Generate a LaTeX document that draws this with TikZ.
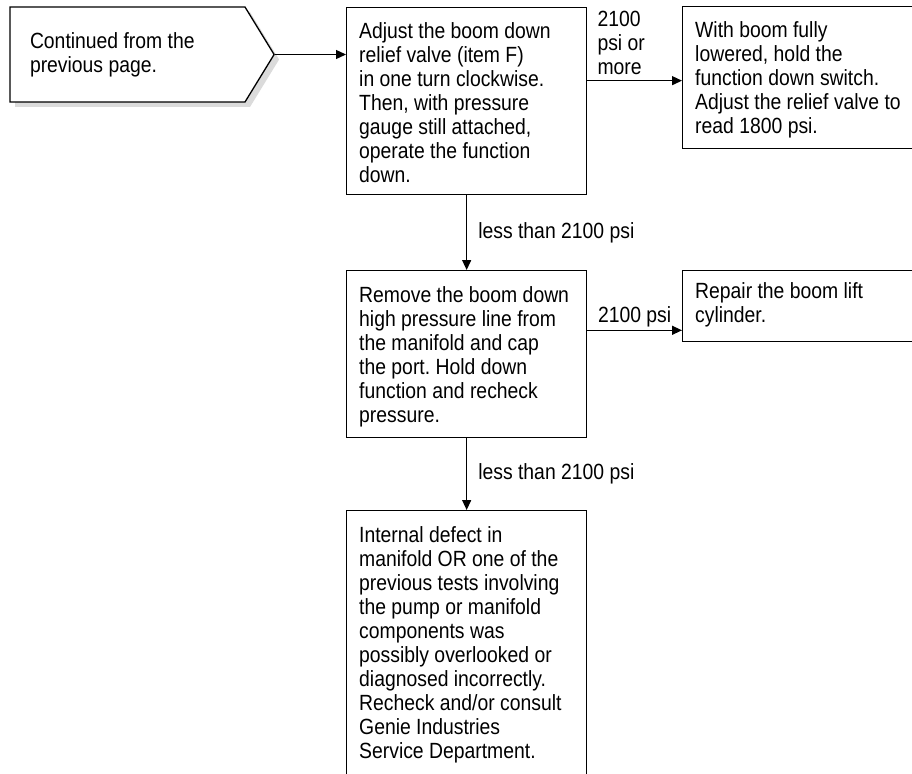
\documentclass[tikz,border=0pt]{standalone}
\usepackage{fontspec}
\setmainfont{Liberation Sans}[FakeStretch=0.88]
\usepackage{tikz}
\usetikzlibrary{arrows.meta,positioning,shapes.symbols,shadows}
\frenchspacing

\begin{document}
\begin{tikzpicture}[x=1pt, y=-1pt,
    box/.style={draw, line width=1.3pt, fill=white, anchor=north west, inner sep=0pt},
    txt/.style={font=\fontsize{22}{24}\selectfont, align=left, anchor=north west, inner sep=0pt},
    lbl/.style={font=\fontsize{22}{24}\selectfont, align=left, inner sep=0pt},
    flow/.style={-{Triangle[length=10pt,width=9pt]}, line width=1.3pt},
    cont/.style={signal, signal to=east, signal pointer angle=117, draw, line width=1.3pt, fill=white,
        minimum height=95pt, inner xsep=20pt, text width=195pt, align=flush left,
        font=\fontsize{22}{24}\selectfont,
        drop shadow={shadow xshift=5pt, shadow yshift=-5pt, fill=black!14, opacity=1}}
]
    \useasboundingbox (0,0) rectangle (912,773);
    \clip (0,0) rectangle (912,773);

    % Start marker (left)
    \node[cont] (prev) at (127.5,54.5) {Continued from the\\previous page.};

    % Boxes
    \node[box, minimum width=240pt, minimum height=187pt] (adjust) at (346,7) {};
    \node[box, minimum width=260pt, minimum height=142pt] (lower) at (682,6) {};
    \node[box, minimum width=240pt, minimum height=167pt] (remove) at (346,270) {};
    \node[box, minimum width=260pt, minimum height=71pt] (repair) at (682,270) {};
    \node[box, minimum width=240pt, minimum height=290pt] (defect) at (346,510) {};

    % Box texts
    \node[txt] (adjusttxt) at ([shift={(13,15)}]adjust.north west)
        {Adjust the boom down\\relief valve (item F)\\in one turn clockwise.\\Then, with pressure\\gauge still attached,\\operate the function\\down.};
    \node[txt] (lowertxt) at ([shift={(13,15)}]lower.north west)
        {With boom fully\\lowered, hold the\\function down switch.\\Adjust the relief valve to\\read 1800 psi.};
    \node[txt] (removetxt) at ([shift={(13,16)}]remove.north west)
        {Remove the boom down\\high pressure line from\\the manifold and cap\\the port. Hold down\\function and recheck\\pressure.};
    \node[txt] (repairtxt) at ([shift={(13,12)}]repair.north west)
        {Repair the boom lift\\cylinder.};
    \node[txt] (defecttxt) at ([shift={(13,16)}]defect.north west)
        {Internal defect in\\manifold OR one of the\\previous tests involving\\the pump or manifold\\components was\\possibly overlooked or\\diagnosed incorrectly.\\Recheck and/or consult\\Genie Industries\\Service Department.};

    % Connectors
    \coordinate (hi) at ([yshift=-3pt]adjust.east |- lower.west);
    \coordinate (cyl) at ([yshift=12pt]repair.south west);
    \draw[flow] (prev.east) -- (prev.east -| adjust.west);
    \draw[flow] (hi) -- (hi -| lower.west);
    \node[lbl, above right=6pt and 10pt of hi] (hilbl) {2100\\psi or\\more};
    \draw[flow] (adjust.south) -- node[lbl, midway, right=11pt] (lowlbl) {less than 2100 psi} (remove.north);
    \draw[flow] (remove.east |- cyl) -- node[lbl, midway, above=3pt] (cyllbl) {2100 psi} (cyl);
    \draw[flow] (remove.south) -- node[lbl, midway, right=11pt] (low2lbl) {less than 2100 psi} (defect.north);
\end{tikzpicture}
\end{document}
